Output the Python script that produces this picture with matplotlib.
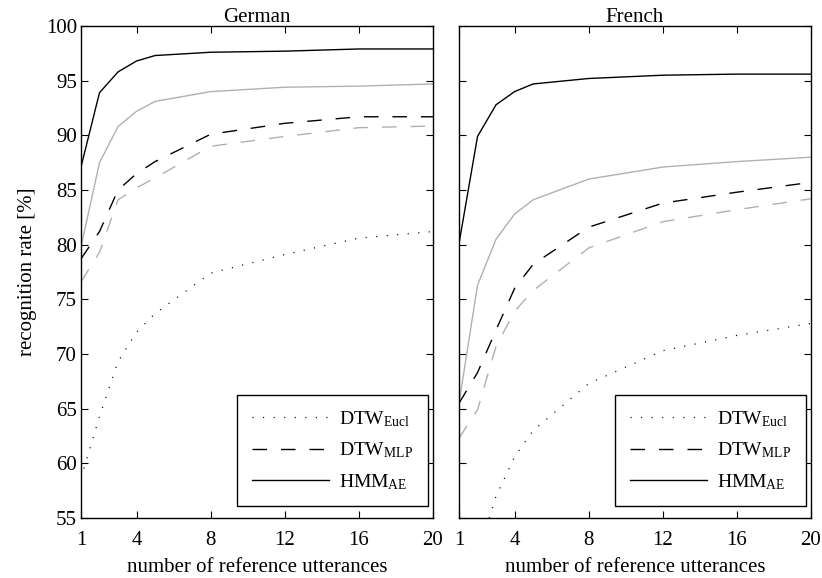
import numpy as np
import matplotlib
matplotlib.use('Agg')
import matplotlib.pyplot as plt

plt.rcParams['font.family'] = ['Liberation Serif', 'DejaVu Serif']
plt.rcParams['mathtext.fontset'] = 'custom'
plt.rcParams['mathtext.rm'] = 'Liberation Serif'
plt.rcParams['mathtext.it'] = 'Liberation Serif:italic'
plt.rcParams['font.size'] = 15
plt.rcParams['lines.scale_dashes'] = False

# number of reference utterances
refs = [1, 2, 3, 4, 5, 8, 12, 16, 20]

# German (black = HMM/DTW, gray = second feature set)
de_eucl = [58.6, 64.3, 69.3, 72.0, 73.7, 77.4, 79.1, 80.6, 81.2]
de_mlp = [78.7, 81.2, 85.0, 86.5, 87.6, 90.1, 91.1, 91.7, 91.7]
de_mlp_g = [76.6, 79.3, 84.1, 85.2, 86.1, 89.0, 89.9, 90.7, 90.85]
de_ae = [87.1, 93.9, 95.8, 96.8, 97.3, 97.6, 97.7, 97.9, 97.9]
de_ae_g = [79.8, 87.5, 90.8, 92.2, 93.1, 94.0, 94.4, 94.5, 94.7]

# French
fr_eucl = [45.0, 51.5, 57.0, 60.6, 63.0, 67.3, 70.3, 71.7, 72.8]
fr_mlp = [65.5, 68.3, 72.2, 76.0, 78.2, 81.6, 83.8, 84.8, 85.7]
fr_mlp_g = [62.3, 64.9, 70.7, 73.9, 75.8, 79.7, 82.1, 83.2, 84.2]
fr_ae = [80.1, 89.9, 92.8, 94.0, 94.7, 95.2, 95.5, 95.6, 95.6]
fr_ae_g = [65.5, 76.3, 80.5, 82.8, 84.1, 86.0, 87.1, 87.6, 88.0]

titles = ['German', 'French']
xticks = [1, 4, 8, 12, 16, 20]
yticks = [55, 60, 65, 70, 75, 80, 85, 90, 95, 100]

gray = '#b0b0b0'
dot = (0, (0.8, 6.8))
dash = (0, (10.5, 10.0))

fig = plt.figure(figsize=(8.22, 5.78), dpi=100)
ax1 = fig.add_axes([0.0985, 0.1038, 0.4282, 0.8512])
ax2 = fig.add_axes([0.5584, 0.1038, 0.4282, 0.8512])

data = [(de_eucl, de_mlp, de_mlp_g, de_ae, de_ae_g),
        (fr_eucl, fr_mlp, fr_mlp_g, fr_ae, fr_ae_g)]

for ax, title, d in zip([ax1, ax2], titles, data):
    eucl, mlp, mlp_g, ae, ae_g = d
    ax.plot(refs, mlp_g, color=gray, lw=1.0, linestyle=dash)
    ax.plot(refs, ae_g, color=gray, lw=1.0)
    l1, = ax.plot(refs, eucl, color='k', lw=0.9, linestyle=dot,
                  label=r'DTW$_{\mathrm{Eucl}}$')
    l2, = ax.plot(refs, mlp, color='k', lw=1.0, linestyle=dash,
                  label=r'DTW$_{\mathrm{MLP}}$')
    l3, = ax.plot(refs, ae, color='k', lw=1.0, label=r'HMM$_{\mathrm{AE}}$')
    ax.set_xlim(1, 20)
    ax.set_ylim(55, 100)
    ax.set_xticks(xticks)
    ax.set_yticks(yticks)
    ax.tick_params(direction='in', top=True, right=True, length=5, width=0.8,
                   labelsize=15)
    ax.tick_params(axis='x', pad=9)
    ax.tick_params(axis='y', pad=3)
    for sp in ax.spines.values():
        sp.set_linewidth(1.0)
    ax.set_title(title, fontsize=15, pad=3)
    ax.set_xlabel('number of reference utterances', fontsize=15, labelpad=6)
    leg = ax.legend(handles=[l1, l2, l3], loc='lower right',
                    bbox_to_anchor=(0.985, 0.024), borderaxespad=0,
                    fancybox=False, framealpha=1, edgecolor='k',
                    handlelength=4.0, handletextpad=0.5, labelspacing=0.6,
                    borderpad=0.75, fontsize=14)
    leg.get_frame().set_linewidth(1.0)

ax1.set_ylabel('recognition rate [%]', fontsize=15, labelpad=6)
ax2.tick_params(labelleft=False)

fig.savefig('out.png', dpi=100)
